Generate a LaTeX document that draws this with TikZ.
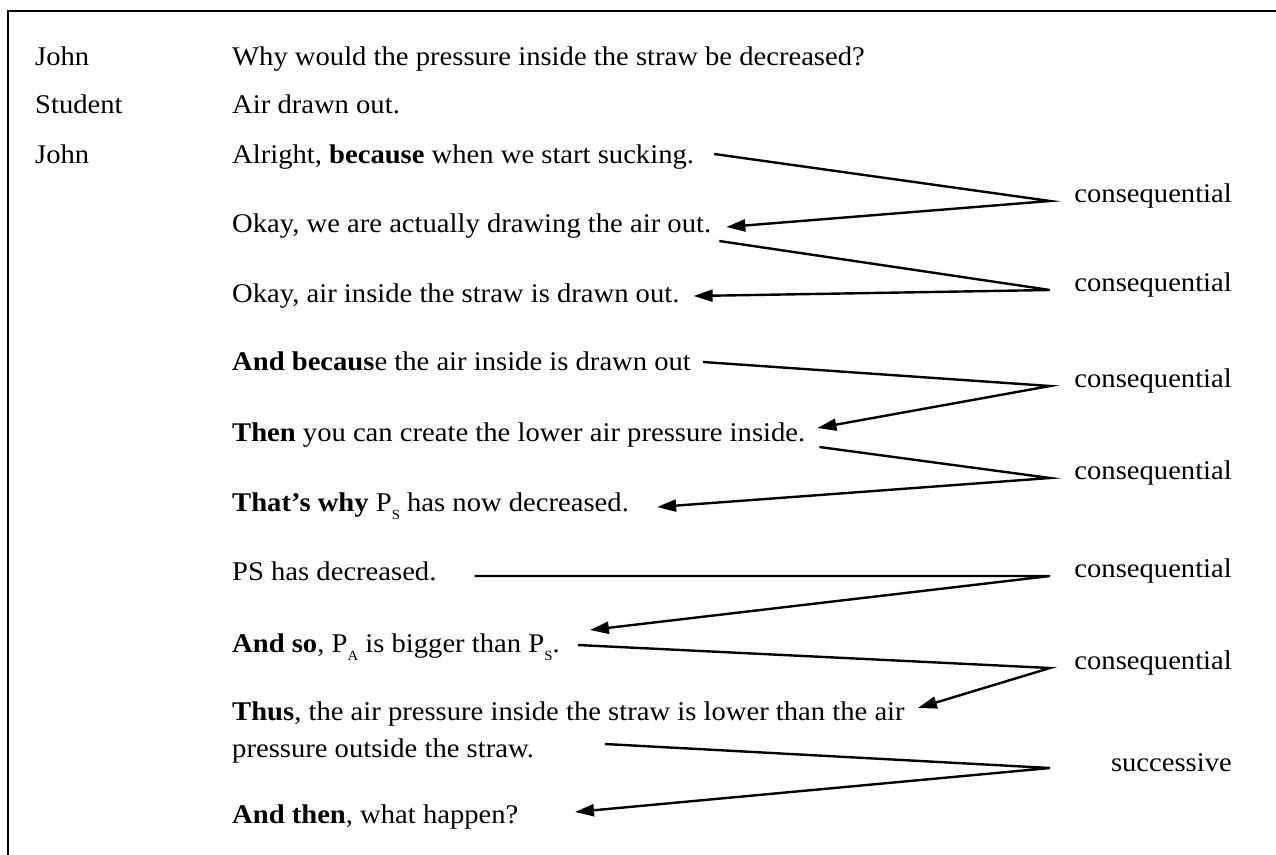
\documentclass[tikz,border=0pt]{standalone}
\usepackage{fontspec}
\setmainfont{Liberation Serif}[FakeStretch=1.06]
\usetikzlibrary{arrows.meta,calc}
\newcommand{\lowsub}[1]{\raisebox{-0.3em}{\fontsize{14}{14}\selectfont #1}}
\begin{document}
\begin{tikzpicture}[x=1pt,y=-1pt,
  txt/.style={anchor=base west,inner sep=0pt,font=\fontsize{27}{31}\selectfont},
  lbl/.style={anchor=east,inner sep=0pt,font=\fontsize{27}{31}\selectfont},
  arr/.style={line width=2.4pt,-{Triangle[length=19pt,width=12pt]}}]
\useasboundingbox (0,0) rectangle (1276,854);
\draw[line width=2.8pt] (8,856) -- (8,11) -- (1278,11);
% speakers
\node[txt] (sp1) at (35,65) {John};
\node[txt] (sp2) at (35,113) {Student};
\node[txt] (sp3) at (35,163) {John};
% utterances
\node[txt] (r1) at (232,65) {Why would the pressure inside the straw be decreased?};
\node[txt] (r2) at (232,113) {Air drawn out.};
\node[txt] (r3) at (232,163) {Alright, \textbf{because} when we start sucking.};
\node[txt] (r4) at (232,232) {Okay, we are actually drawing the air out.};
\node[txt] (r5) at (232,302) {Okay, air inside the straw is drawn out.};
\node[txt] (r6) at (232,370) {\textbf{And becaus}e the air inside is drawn out};
\node[txt] (r7) at (232,441) {\textbf{Then} you can create the lower air pressure inside.};
\node[txt] (r8) at (232,511) {\textbf{That’s why} P\lowsub{S} has now decreased.};
\node[txt] (r9) at (232,580) {PS has decreased.};
\node[txt] (r10) at (232,652) {\textbf{And so}, P\lowsub{A} is bigger than P\lowsub{S}.};
\node[txt] (r11) at (232,720) {\textbf{Thus}, the air pressure inside the straw is lower than the air};
\node[txt] (r12) at (232,757) {pressure outside the straw.};
\node[txt] (r13) at (232,823) {\textbf{And then}, what happen?};
% vertices
\coordinate (v1) at (1050,201);
\coordinate (v2) at (1050,290);
\coordinate (v3) at (1050,386);
\coordinate (v4) at (1050,478);
\coordinate (v5) at (1050,576);
\coordinate (v6) at (1050,668);
\coordinate (v7) at (1050,768);
% labels
\node[lbl] (c1) at (1232,196) {consequential};
\node[lbl] (c2) at (1232,285) {consequential};
\node[lbl] (c3) at (1232,381) {consequential};
\node[lbl] (c4) at (1232,473) {consequential};
\node[lbl] (c5) at (1232,571) {consequential};
\node[lbl] (c6) at (1232,663) {consequential};
\node[lbl] (c7) at (1232,763) {successive};
% start and tip points, relative to the text lines
\coordinate (s1) at ($(r3.base east)+(20,-9)$);
\coordinate (t1) at ($(r4.base east)+(15,-5)$);
\coordinate (s2) at ($(r4.base east)+(8,9)$);
\coordinate (t2) at ($(r5.base east)+(14,-6)$);
\coordinate (s3) at ($(r6.base east)+(12,-8)$);
\coordinate (t3) at ($(r7.base east)+(12,-13)$);
\coordinate (s4) at ($(r7.base east)+(14,6)$);
\coordinate (t4) at ($(r8.base east)+(28,-4)$);
\coordinate (s5) at ($(r9.base east)+(38,-4)$);
\coordinate (t5) at ($(r10.base east)+(30,-22)$);
\coordinate (s6) at ($(r10.base east)+(18,-7)$);
\coordinate (t6) at ($(r11.base east)+(13,-12)$);
\coordinate (s7) at (605,744);
\coordinate (t7) at (575,812);
\foreach \i in {1,...,7}{\draw[arr] (s\i) -- (v\i) -- (t\i);}
\end{tikzpicture}
\end{document}
